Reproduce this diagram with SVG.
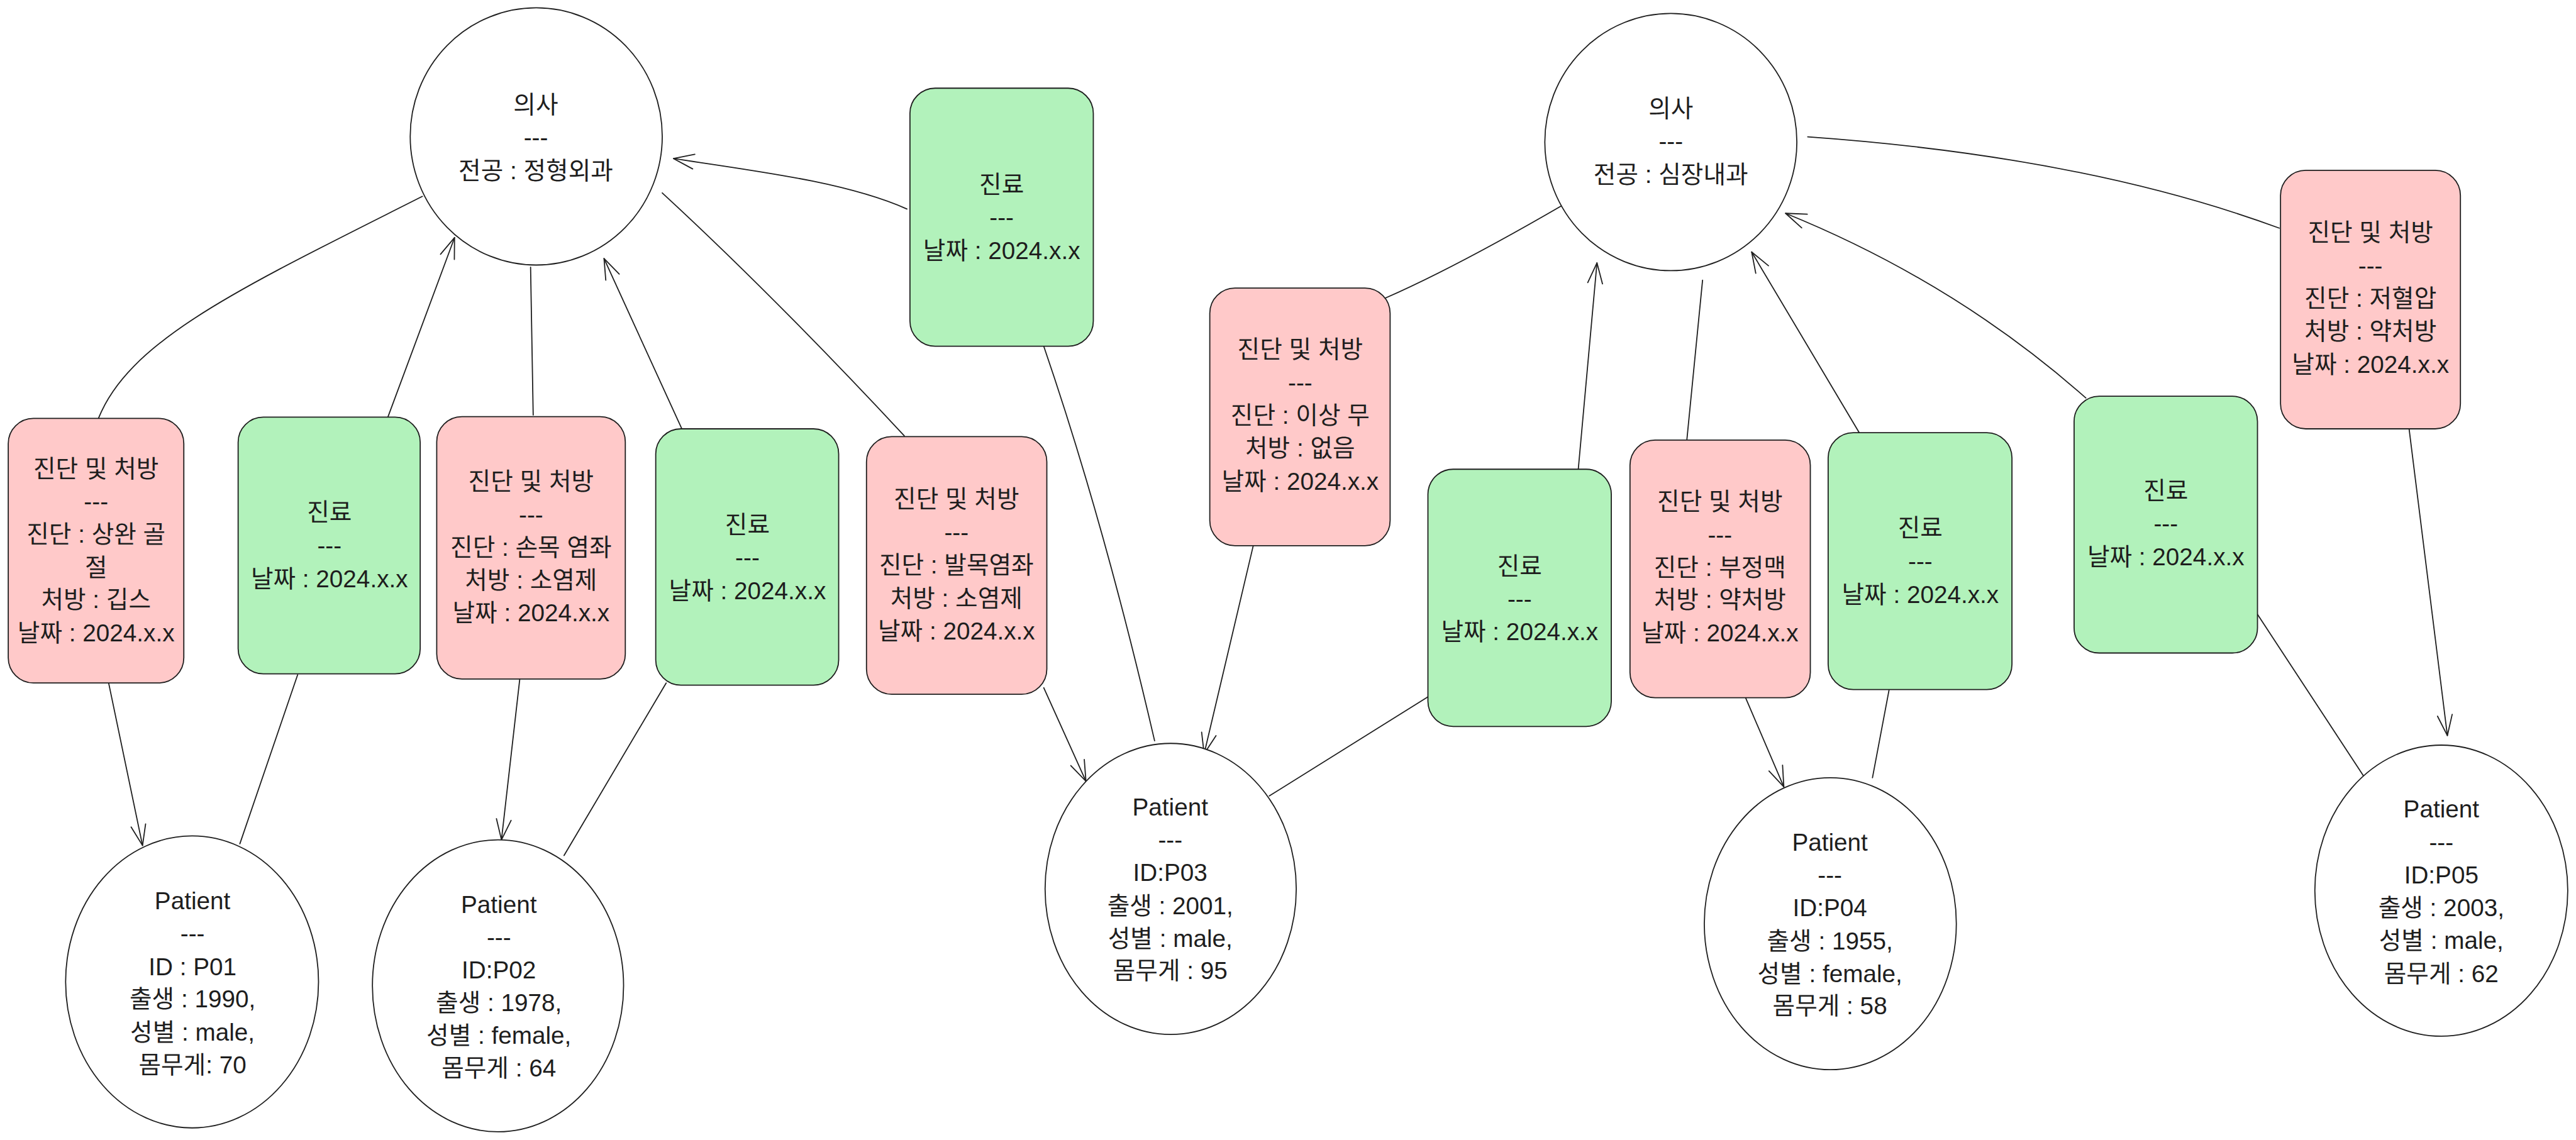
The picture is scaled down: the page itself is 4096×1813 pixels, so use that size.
<svg xmlns="http://www.w3.org/2000/svg" width="4096" height="1813" viewBox="0 0 4096 1813">
<defs>
<style>
.red{fill:#ffc9c9;stroke:#1e1e1e;stroke-width:2.6}
.green{fill:#b2f2bb;stroke:#1e1e1e;stroke-width:2.6}
.ell{fill:#ffffff;stroke:#1e1e1e;stroke-width:2.6}
.t{font-family:"Liberation Sans","Noto Sans CJK KR",sans-serif;font-size:56px;fill:#1e1e1e;text-anchor:middle}
.c{fill:none;stroke:#1e1e1e;stroke-width:2.6;stroke-linecap:round}
</style>
<marker id="ah" viewBox="-55 -25 60 50" refX="0" refY="0" markerWidth="60" markerHeight="50" markerUnits="userSpaceOnUse" orient="auto">
<path d="M-47,-17 L0,0 L-47,17" fill="none" stroke="#1e1e1e" stroke-width="2.6" stroke-linecap="round" stroke-linejoin="round"/>
</marker>
</defs>
<rect width="4096" height="1813" fill="#ffffff"/>
<g transform="scale(0.69096)">
<g id="connectors">
<path class="c" d="M227,962 C300,780 560,660 972,452"/>
<path class="c" d="M893,959 L1046,547" marker-end="url(#ah)"/>
<path class="c" d="M1227,955 L1221,615"/>
<path class="c" d="M1569,987 L1390,595" marker-end="url(#ah)"/>
<path class="c" d="M1524,444 Q1780,680 2081,1003"/>
<path class="c" d="M2087,481 C1950,420 1750,395 1550,365" marker-end="url(#ah)"/>
<path class="c" d="M2402,797 Q2540,1200 2657,1705"/>
<path class="c" d="M2402,1583 L2499,1798" marker-end="url(#ah)"/>
<path class="c" d="M2884,1256 L2771,1735" marker-end="url(#ah)"/>
<path class="c" d="M3188,686 Q3350,615 3598,471"/>
<path class="c" d="M3286,1604 L2921,1832"/>
<path class="c" d="M3632,1080 L3675,605" marker-end="url(#ah)"/>
<path class="c" d="M3882,1011 L3918,645"/>
<path class="c" d="M4278,995 L4031,580" marker-end="url(#ah)"/>
<path class="c" d="M4800,916 Q4500,650 4109,491" marker-end="url(#ah)"/>
<path class="c" d="M4160,315 Q4797,360 5245,525"/>
<path class="c" d="M5544,988 L5632,1693" marker-end="url(#ah)"/>
<path class="c" d="M4017,1606 L4105,1811" marker-end="url(#ah)"/>
<path class="c" d="M4347,1589 L4309,1790"/>
<path class="c" d="M5195,1414 L5439,1786"/>
<path class="c" d="M250,1572 L328,1946" marker-end="url(#ah)"/>
<path class="c" d="M685,1553 L552,1942"/>
<path class="c" d="M1196,1564 L1154,1933" marker-end="url(#ah)"/>
<path class="c" d="M1533,1572 L1298,1969"/>
</g>

<g id="doctor1">
<ellipse class="ell" cx="1234" cy="314" rx="290" ry="296"/>
<text class="t" x="1233" y="261">의사</text>
<text class="t" x="1233" y="336">---</text>
<text class="t" x="1233" y="412">전공 : 정형외과</text>
</g>
<g id="doctor2">
<ellipse class="ell" cx="3845" cy="327" rx="290" ry="296"/>
<text class="t" x="3845" y="269">의사</text>
<text class="t" x="3845" y="345">---</text>
<text class="t" x="3845" y="421">전공 : 심장내과</text>
</g>

<g id="diag1">
<rect class="red" x="19" y="963" width="404" height="609" rx="58"/>
<text class="t" x="221" y="1098">진단 및 처방</text>
<text class="t" x="221" y="1174">---</text>
<text class="t" x="221" y="1249">진단 : 상완 골</text>
<text class="t" x="221" y="1325">절</text>
<text class="t" x="221" y="1400">처방 : 깁스</text>
<text class="t" x="221" y="1476">날짜 : 2024.x.x</text>
</g>
<g id="visit1">
<rect class="green" x="548" y="960" width="419" height="591" rx="58"/>
<text class="t" x="758" y="1199">진료</text>
<text class="t" x="758" y="1275">---</text>
<text class="t" x="758" y="1352">날짜 : 2024.x.x</text>
</g>
<g id="diag2">
<rect class="red" x="1005" y="959" width="434" height="604" rx="58"/>
<text class="t" x="1222" y="1128">진단 및 처방</text>
<text class="t" x="1222" y="1204">---</text>
<text class="t" x="1222" y="1279">진단 : 손목 염좌</text>
<text class="t" x="1222" y="1355">처방 : 소염제</text>
<text class="t" x="1222" y="1430">날짜 : 2024.x.x</text>
</g>
<g id="visit2">
<rect class="green" x="1509" y="987" width="421" height="590" rx="58"/>
<text class="t" x="1720" y="1227">진료</text>
<text class="t" x="1720" y="1303">---</text>
<text class="t" x="1720" y="1379">날짜 : 2024.x.x</text>
</g>
<g id="diag3">
<rect class="red" x="1994" y="1005" width="415" height="593" rx="58"/>
<text class="t" x="2201" y="1168">진단 및 처방</text>
<text class="t" x="2201" y="1244">---</text>
<text class="t" x="2201" y="1320">진단 : 발목염좌</text>
<text class="t" x="2201" y="1396">처방 : 소염제</text>
<text class="t" x="2201" y="1472">날짜 : 2024.x.x</text>
</g>
<g id="visitTop">
<rect class="green" x="2094" y="203" width="422" height="594" rx="58"/>
<text class="t" x="2305" y="444">진료</text>
<text class="t" x="2305" y="520">---</text>
<text class="t" x="2305" y="596">날짜 : 2024.x.x</text>
</g>
<g id="diag4">
<rect class="red" x="2784" y="663" width="415" height="593" rx="58"/>
<text class="t" x="2992" y="824">진단 및 처방</text>
<text class="t" x="2992" y="900">---</text>
<text class="t" x="2992" y="975">진단 : 이상 무</text>
<text class="t" x="2992" y="1051">처방 : 없음</text>
<text class="t" x="2992" y="1127">날짜 : 2024.x.x</text>
</g>
<g id="visit3">
<rect class="green" x="3286" y="1080" width="422" height="592" rx="58"/>
<text class="t" x="3497" y="1323">진료</text>
<text class="t" x="3497" y="1398">---</text>
<text class="t" x="3497" y="1473">날짜 : 2024.x.x</text>
</g>
<g id="diag5">
<rect class="red" x="3751" y="1013" width="415" height="593" rx="58"/>
<text class="t" x="3958" y="1174">진단 및 처방</text>
<text class="t" x="3958" y="1250">---</text>
<text class="t" x="3958" y="1325">진단 : 부정맥</text>
<text class="t" x="3958" y="1400">처방 : 약처방</text>
<text class="t" x="3958" y="1476">날짜 : 2024.x.x</text>
</g>
<g id="visit4">
<rect class="green" x="4207" y="996" width="423" height="591" rx="58"/>
<text class="t" x="4419" y="1234">진료</text>
<text class="t" x="4419" y="1311">---</text>
<text class="t" x="4419" y="1388">날짜 : 2024.x.x</text>
</g>
<g id="visit5">
<rect class="green" x="4773" y="912" width="422" height="591" rx="58"/>
<text class="t" x="4984" y="1149">진료</text>
<text class="t" x="4984" y="1225">---</text>
<text class="t" x="4984" y="1301">날짜 : 2024.x.x</text>
</g>
<g id="diag6">
<rect class="red" x="5248" y="392" width="414" height="595" rx="58"/>
<text class="t" x="5455" y="555">진단 및 처방</text>
<text class="t" x="5455" y="631">---</text>
<text class="t" x="5455" y="706">진단 : 저혈압</text>
<text class="t" x="5455" y="782">처방 : 약처방</text>
<text class="t" x="5455" y="858">날짜 : 2024.x.x</text>
</g>

<g id="patient1">
<ellipse class="ell" cx="442" cy="2260" rx="291" ry="336"/>
<text class="t" x="443" y="2093">Patient</text>
<text class="t" x="443" y="2168">---</text>
<text class="t" x="443" y="2244">ID : P01</text>
<text class="t" x="443" y="2319">출생 : 1990,</text>
<text class="t" x="443" y="2395">성별 : male,</text>
<text class="t" x="443" y="2470">몸무게: 70</text>
</g>
<g id="patient2">
<ellipse class="ell" cx="1146" cy="2269" rx="289" ry="336"/>
<text class="t" x="1148" y="2101">Patient</text>
<text class="t" x="1148" y="2177">---</text>
<text class="t" x="1148" y="2252">ID:P02</text>
<text class="t" x="1148" y="2327">출생 : 1978,</text>
<text class="t" x="1148" y="2403">성별 : female,</text>
<text class="t" x="1148" y="2478">몸무게 : 64</text>
</g>
<g id="patient3">
<ellipse class="ell" cx="2694" cy="2046" rx="289" ry="335"/>
<text class="t" x="2693" y="1877">Patient</text>
<text class="t" x="2693" y="1953">---</text>
<text class="t" x="2693" y="2028">ID:P03</text>
<text class="t" x="2693" y="2104">출생 : 2001,</text>
<text class="t" x="2693" y="2179">성별 : male,</text>
<text class="t" x="2693" y="2254">몸무게 : 95</text>
</g>
<g id="patient4">
<ellipse class="ell" cx="4212" cy="2126" rx="290" ry="336"/>
<text class="t" x="4211" y="1958">Patient</text>
<text class="t" x="4211" y="2034">---</text>
<text class="t" x="4211" y="2109">ID:P04</text>
<text class="t" x="4211" y="2185">출생 : 1955,</text>
<text class="t" x="4211" y="2260">성별 : female,</text>
<text class="t" x="4211" y="2335">몸무게 : 58</text>
</g>
<g id="patient5">
<ellipse class="ell" cx="5618" cy="2050" rx="291" ry="335"/>
<text class="t" x="5618" y="1882">Patient</text>
<text class="t" x="5618" y="1958">---</text>
<text class="t" x="5618" y="2033">ID:P05</text>
<text class="t" x="5618" y="2109">출생 : 2003,</text>
<text class="t" x="5618" y="2184">성별 : male,</text>
<text class="t" x="5618" y="2260">몸무게 : 62</text>
</g>
</g>
</svg>
